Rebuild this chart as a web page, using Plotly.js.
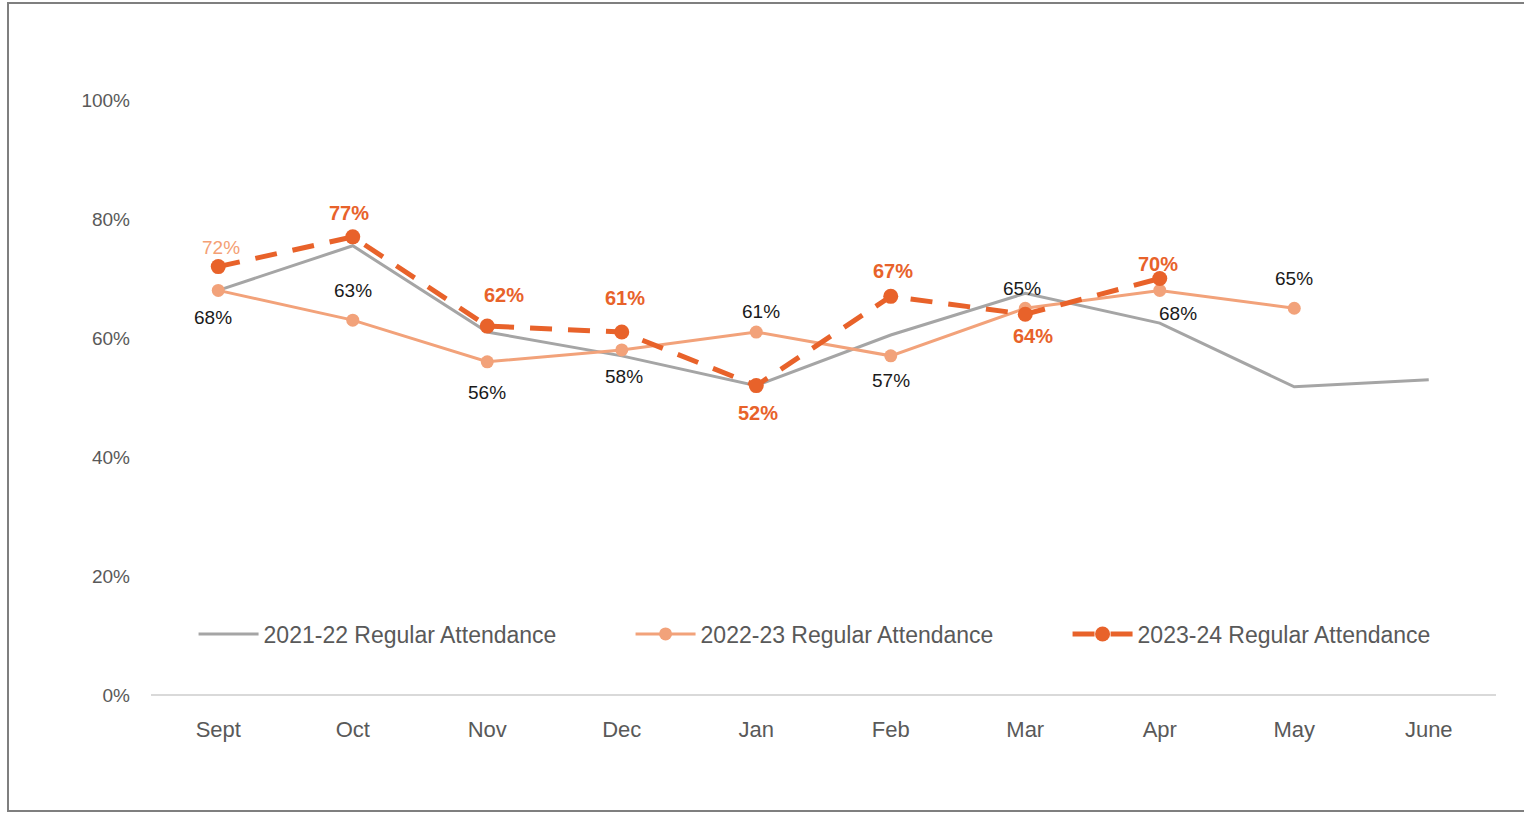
<!DOCTYPE html>
<html>
<head>
<meta charset="utf-8">
<script src="https://cdn.plot.ly/plotly-3.0.1.min.js"></script>
<style>
  html, body { margin: 0; padding: 0; background: #fff; }
  #frame { position: absolute; left: 7px; top: 2px; width: 1520px; height: 810px; border: 2px solid #7f7f7f; border-right: none; box-sizing: border-box; }
  #chart { position: absolute; left: 0; top: 0; width: 1524px; height: 814px; }
</style>
</head>
<body>
<div id="frame"></div>
<div id="chart"></div>
<script>
const months = ["Sept", "Oct", "Nov", "Dec", "Jan", "Feb", "Mar", "Apr", "May", "June"];
const att2122 = [0.68, 0.755, 0.61, 0.57, 0.52, 0.605, 0.675, 0.625, 0.518, 0.53];
const att2223 = [0.68, 0.63, 0.56, 0.58, 0.61, 0.57, 0.65, 0.68, 0.65];
const att2324 = [0.72, 0.77, 0.62, 0.61, 0.52, 0.67, 0.64, 0.70];
const names = ["2021-22 Regular Attendance", "2022-23 Regular Attendance", "2023-24 Regular Attendance"];

// label placement (pixel offsets from each point) – styling only
const off2223 = [[-5, -27], [0, 30], [0, -31], [2, -27], [5, 21], [0, -25], [-3, 20], [18, -23], [0, 30]];
const off2324 = [[3, 19], [-4, 24], [17, 31], [3, 34], [2, -27], [2, 25], [8, -22], [-2, 15]];

const FONT = "Liberation Sans, Arial, sans-serif";
const GRAY = "#A5A5A5", LORANGE = "#F2A27A", DORANGE = "#E8622A";

const traces = [
  {
    x: months, y: att2122, name: names[0], type: "scatter", mode: "lines",
    line: { color: GRAY, width: 3 }, hoverinfo: "skip"
  },
  {
    x: months.slice(0, att2223.length), y: att2223, name: names[1], type: "scatter", mode: "lines+markers",
    line: { color: LORANGE, width: 3 }, marker: { color: LORANGE, size: 13 }, hoverinfo: "skip"
  },
  {
    x: months.slice(0, att2324.length), y: att2324, name: names[2], type: "scatter", mode: "lines+markers",
    line: { color: DORANGE, width: 5, dash: "22px,16px" }, marker: { color: DORANGE, size: 15 }, hoverinfo: "skip"
  }
];

const annotations = [];
att2223.forEach((v, i) => annotations.push({
  x: months[i], y: v, xref: "x", yref: "y", text: Math.round(v * 100) + "%",
  showarrow: false, xshift: off2223[i][0], yshift: off2223[i][1],
  font: { family: FONT, size: 19, color: "#1a1a1a" }
}));
att2324.forEach((v, i) => annotations.push({
  x: months[i], y: v, xref: "x", yref: "y",
  text: i === 0 ? Math.round(v * 100) + "%" : "<b>" + Math.round(v * 100) + "%</b>",
  showarrow: false, xshift: off2324[i][0], yshift: off2324[i][1],
  font: { family: FONT, size: i === 0 ? 19 : 20, color: i === 0 ? "#F4A074" : DORANGE }
}));

const layout = {
  width: 1524, height: 814,
  margin: { l: 151, r: 28, t: 100, b: 119 },
  paper_bgcolor: "rgba(0,0,0,0)", plot_bgcolor: "rgba(0,0,0,0)",
  font: { family: FONT, color: "#595959" },
  showlegend: true,
  legend: {
    orientation: "h", x: 0.519, xanchor: "center", y: 0.1025, yanchor: "middle",
    font: { family: FONT, size: 23, color: "#595959" },
    entrywidth: 362, entrywidthmode: "pixels", bgcolor: "rgba(0,0,0,0)", itemwidth: 60
  },
  annotations: annotations,
  xaxis: {
    type: "category", range: [-0.5, 9.5], showgrid: false, zeroline: false,
    showline: false, ticks: "", ticklabelstandoff: 19,
    tickfont: { family: FONT, size: 22, color: "#595959" }, fixedrange: true
  },
  yaxis: {
    range: [0, 1], tickvals: [0, 0.2, 0.4, 0.6, 0.8, 1.0], tickformat: ".0%",
    showgrid: false, zeroline: true, zerolinecolor: "#D9D9D9", zerolinewidth: 2,
    showline: false, ticks: "", ticklabelstandoff: 20,
    tickfont: { family: FONT, size: 19, color: "#595959" }, fixedrange: true
  }
};

Plotly.newPlot("chart", traces, layout, { displayModeBar: false, staticPlot: true });
</script>
</body>
</html>
